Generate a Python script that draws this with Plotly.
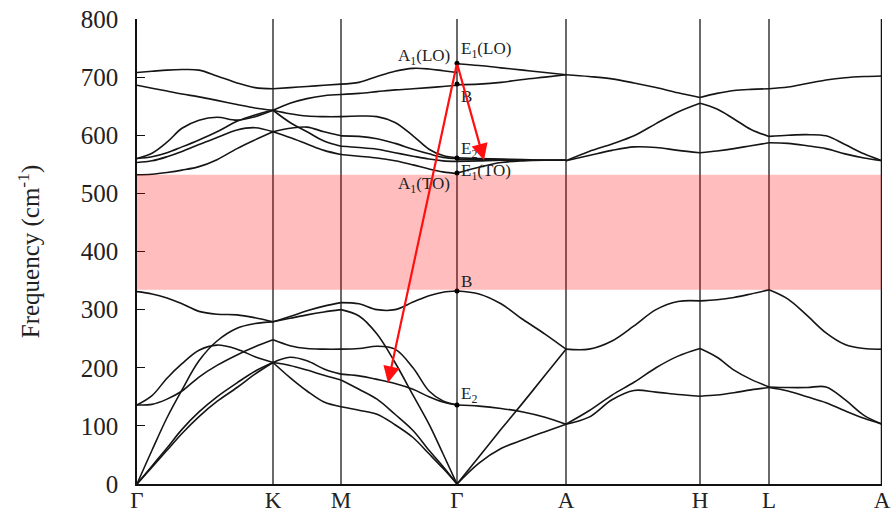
import plotly.graph_objects as go

# ---------------- data (path coordinate u, frequency in cm^-1) ----------------
sym_labels = ["Γ", "K", "M", "Γ", "A", "H", "L", "A"]
sym_pos = [0, 136, 204, 320, 429, 563, 632, 745]

GK_x = [0, 15, 30, 45, 62, 80, 100, 118, 136]
GK_bands = [
    [708, 710, 712, 713, 712, 702, 690, 682, 680],
    [686, 681, 676, 671, 666, 660, 653, 647, 643],
    [560, 569, 588, 612, 626, 631, 626, 632, 643],
    [560, 563, 570, 580, 592, 606, 624, 635, 643],
    [553, 556, 563, 572, 584, 596, 609, 613, 606],
    [532, 533, 536, 540, 546, 558, 577, 592, 606],
    [331, 327, 320, 310, 297, 292, 291, 286, 279],
    [0, 58, 114, 162, 212, 246, 268, 276, 279],
    [136, 152, 182, 207, 230, 239, 232, 219, 209],
    [136, 137, 146, 160, 184, 204, 222, 236, 248],
    [0, 31, 62, 94, 124, 150, 174, 194, 209],
    [0, 29, 58, 87, 116, 142, 166, 189, 209],
]

KM_x = [136, 153, 170, 187, 204]
KM_bands = [
    [680, 682, 684, 686, 688],
    [643, 655, 663, 668, 670],
    [643, 637, 633, 632, 632],
    [643, 622, 606, 590, 581],
    [606, 612, 614, 606, 599],
    [606, 596, 585, 574, 567],
    [279, 288, 298, 306, 312],
    [279, 285, 291, 296, 300],
    [248, 238, 233, 232, 232],
    [209, 218, 212, 198, 189],
    [209, 204, 196, 187, 179],
    [209, 183, 160, 141, 133],
]

MG_x = [204, 222, 240, 258, 276, 292, 306, 320]
MG_bands = [
    [688, 691, 701, 710, 715, 714, 711, 708],
    [670, 672, 675, 678, 680, 682, 684, 686],
    [632, 633, 632, 622, 599, 576, 565, 561],
    [599, 598, 594, 586, 576, 568, 562, 560],
    [581, 579, 576, 570, 564, 559, 556, 555],
    [567, 564, 561, 556, 549, 542, 537, 534],
    [312, 310, 300, 300, 313, 324, 330, 332],
    [300, 289, 258, 209, 153, 103, 52, 0],
    [232, 233, 237, 232, 200, 160, 143, 136],
    [189, 186, 180, 173, 163, 150, 141, 136],
    [179, 163, 146, 120, 92, 58, 30, 0],
    [133, 127, 120, 102, 80, 52, 27, 0],
]

GA_x = [320, 342, 364, 386, 408, 429]
GA_bands = [
    [723, 720, 716, 712, 708, 704],
    [687, 688, 691, 696, 700, 704],
    [561, 560, 559, 558, 557, 557],
    [558, 559, 558, 557, 557, 557],
    [555, 556, 557, 557, 557, 557],
    [535, 545, 553, 556, 557, 557],
    [332, 327, 310, 283, 258, 232],
    [0, 47, 94, 140, 187, 232],
    [136, 134, 130, 124, 115, 103],
    [0, 36, 61, 76, 90, 103],
]

AH_x = [429, 452, 475, 497, 519, 541, 563]
AH_bands = [
    [704, 701, 697, 690, 682, 673, 665],
    [556, 572, 585, 599, 620, 640, 655],
    [556, 565, 574, 580, 579, 574, 570],
    [232, 232, 246, 272, 300, 314, 315],
    [103, 126, 153, 175, 200, 220, 233],
    [103, 115, 145, 161, 158, 154, 151],
]

HL_x = [563, 580, 597, 614, 632]
HL_bands = [
    [665, 672, 677, 679, 680],
    [655, 645, 628, 610, 598],
    [570, 573, 577, 582, 587],
    [315, 317, 321, 327, 334],
    [233, 218, 196, 180, 167],
    [151, 153, 157, 162, 166],
]

LA_x = [632, 651, 670, 689, 708, 727, 745]
LA_bands = [
    [680, 683, 689, 695, 699, 701, 702],
    [598, 600, 601, 599, 584, 568, 556],
    [587, 586, 582, 577, 568, 561, 556],
    [334, 318, 290, 260, 240, 233, 232],
    [167, 166, 166, 167, 145, 118, 103],
    [166, 160, 150, 140, 126, 113, 103],
]

# modes at Gamma (marked with dots)
gamma_u = [320, 320, 320, 320, 320, 320]
gamma_f = [724, 688, 561, 535, 332, 136]

gap_low, gap_high = 334, 532

# mode labels: (text, u, f, anchor)
mode_labels = [
    ("A<sub>1</sub>(LO)", 315, 735, "right"),
    ("E<sub>1</sub>(LO)", 322, 747, "left"),
    ("B", 322, 666, "left"),
    ("E<sub>2</sub>", 322, 575, "left"),
    ("E<sub>1</sub>(TO)", 322, 537, "left"),
    ("A<sub>1</sub>(TO)", 315, 514, "right"),
    ("B", 322, 348, "left"),
    ("E<sub>2</sub>", 322, 153, "left"),
]

# arrows: start (u, f) -> end (u, f)
arrows = [
    ((320, 724), (251, 174)),
    ((320, 724), (347, 557)),
]

# ---------------- figure ----------------
FONT = "Liberation Serif, Times New Roman, serif"
fig = go.Figure()

for xs, bands in [(GK_x, GK_bands), (KM_x, KM_bands), (MG_x, MG_bands),
                  (GA_x, GA_bands), (AH_x, AH_bands), (HL_x, HL_bands),
                  (LA_x, LA_bands)]:
    for b in bands:
        fig.add_trace(go.Scatter(x=xs, y=b, mode="lines",
                                 line=dict(color="#151515", width=1.6, shape="spline", smoothing=1.0),
                                 showlegend=False, hoverinfo="skip"))

fig.add_trace(go.Scatter(x=gamma_u, y=gamma_f, mode="markers",
                         marker=dict(color="black", size=5), showlegend=False))

# vertical lines at high-symmetry points
for p in sym_pos[1:-1]:
    fig.add_shape(type="line", x0=p, x1=p, y0=0, y1=800, xref="x", yref="y",
                  line=dict(color="#1a1a1a", width=1.3), layer="below")
fig.add_shape(type="line", x0=sym_pos[-1], x1=sym_pos[-1], y0=0, y1=800,
              xref="x", yref="y", line=dict(color="#111", width=2.5))

# gap band
fig.add_shape(type="rect", x0=sym_pos[0], x1=sym_pos[-1], y0=gap_low, y1=gap_high,
              xref="x", yref="y", fillcolor="rgba(255,0,0,0.26)", line=dict(width=0),
              layer="above")

for txt, u, f, anc in mode_labels:
    fig.add_annotation(x=u, y=f, text=txt, showarrow=False, xanchor=anc, yanchor="middle",
                       font=dict(family=FONT, size=17, color="#222"))

for (u0, f0), (u1, f1) in arrows:
    fig.add_annotation(x=u1, y=f1, ax=u0, ay=f0, xref="x", yref="y", axref="x", ayref="y",
                       text="", showarrow=True, arrowhead=2, arrowsize=1.5, arrowwidth=2.2,
                       arrowcolor="#ff1010")

fig.update_layout(
    width=896, height=518,
    margin=dict(l=137, r=14, t=19, b=34, autoexpand=False),
    plot_bgcolor="white", paper_bgcolor="white",
    font=dict(family=FONT, size=25, color="#222"),
    xaxis=dict(range=[sym_pos[0], sym_pos[-1]], tickvals=sym_pos, ticktext=sym_labels,
               showgrid=False, zeroline=False, showline=True, linecolor="#111", linewidth=2,
               ticks="", tickfont=dict(size=23), ticklabelstandoff=-6, automargin=False),
    yaxis=dict(range=[0, 800], tickvals=list(range(0, 801, 100)), showgrid=False,
               zeroline=False, showline=True, linecolor="#111", linewidth=1.5,
               ticks="inside", ticklen=8, tickcolor="#111", tickfont=dict(size=25),
               ticklabelstandoff=12, automargin=False,
               title=dict(text="Frequency (cm<sup>-1</sup>)", font=dict(size=25), standoff=34)),
)

fig.write_html("out.html")
